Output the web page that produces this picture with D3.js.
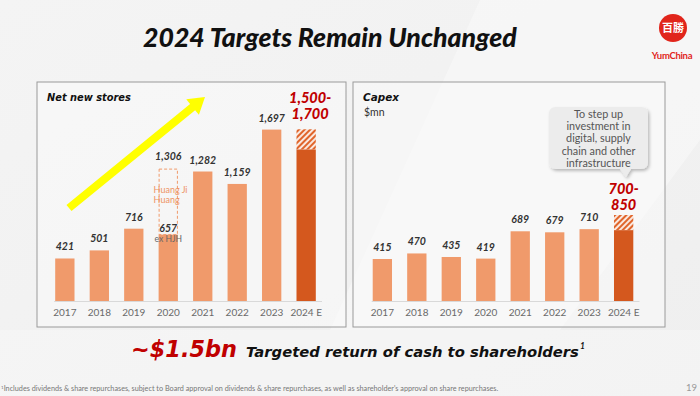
<!DOCTYPE html>
<html>
<head>
<meta charset="utf-8">
<script src="https://cdn.jsdelivr.net/npm/d3@7"></script>
<style>
  html, body { margin: 0; padding: 0; background: #f2f2f2; }
  svg { display: block; font-family: Lato, "Open Sans", sans-serif; }
</style>
</head>
<body>
<svg id="chart" width="700" height="396"></svg>
<script>
// Chart data
const years = ["2017", "2018", "2019", "2020", "2021", "2022", "2023", "2024 E"];
const storeValues = [421, 501, 716, 657, 1282, 1159, 1697, 1500];
const storeTargetHigh = 1700;
const storeHjhTotal = 1306;
const capexValues = [415, 470, 435, 419, 689, 679, 710, 700];
const capexTargetHigh = 850;
const calloutLines = ["To step up", "investment in", "digital, supply", "chain and other", "infrastructure"];

const svg = d3.select("#chart");
const fmt = d3.format(",");

const BAR = "#f09a6b",
      BAR_EST = "#d4581e",
      RED = "#c00000",
      LABEL = "#333",
      WIDE = "'DejaVu Sans', Verdana, sans-serif";

// scale a text's font size so it spans the given width
function fitWidth(sel, w) {
  let cur = sel.node().getComputedTextLength(),
      fs  = +sel.attr("font-size");
  sel.attr("font-size", fs * w / cur);
  return sel;
}

/**
 * Background & defs
 */
const defs = svg.append("defs");

let bgGrad = defs.append("linearGradient").attr("id", "bg").attr("x1", 0).attr("y1", 0).attr("x2", 1).attr("y2", 1);
bgGrad.append("stop").attr("offset", 0).attr("stop-color", "#f4f4f4");
bgGrad.append("stop").attr("offset", 1).attr("stop-color", "#efefef");

let hatch = defs.append("pattern")
    .attr("id", "hatch")
    .attr("width", 4).attr("height", 4)
    .attr("patternUnits", "userSpaceOnUse")
    .attr("patternTransform", "rotate(45)");
hatch.append("rect").attr("width", 4).attr("height", 4).attr("fill", "#e0652b");
hatch.append("line").attr("x1", 1).attr("y1", 0).attr("x2", 1).attr("y2", 4)
    .attr("stroke", "#fff").attr("stroke-width", 1.7);

let shadow = defs.append("filter").attr("id", "shadow").attr("x", "-20%").attr("y", "-20%").attr("width", "140%").attr("height", "150%");
shadow.append("feDropShadow").attr("dx", 1.5).attr("dy", 2).attr("stdDeviation", 1.8)
    .attr("flood-color", "#000").attr("flood-opacity", 0.25);

svg.append("rect").attr("width", 700).attr("height", 396).attr("fill", "url(#bg)");
// soft lighter facets in the slide background
svg.append("polygon").attr("points", "480,0 700,0 700,140 560,330 330,330")
    .attr("fill", "#fff").attr("opacity", 0.35);
svg.append("polygon").attr("points", "0,330 700,330 700,396 0,396")
    .attr("fill", "#fff").attr("opacity", 0.25);

/**
 * Title & logo
 */
let title = svg.append("text")
    .attr("x", 143).attr("y", 47)
    .attr("font-size", 24).attr("font-weight", 900).attr("font-style", "italic")
    .attr("fill", "#111")
    .text("2024 Targets Remain Unchanged");
fitWidth(title, 374);

svg.append("circle").attr("cx", 673).attr("cy", 28).attr("r", 14).attr("fill", "#e1251b");
svg.append("text")
    .attr("x", 673).attr("y", 32)
    .attr("text-anchor", "middle")
    .attr("font-family", "'Noto Sans CJK SC', sans-serif")
    .attr("font-size", 11).attr("font-weight", 700)
    .attr("fill", "#fff")
    .text("百勝");
svg.append("text")
    .attr("x", 672).attr("y", 59)
    .attr("text-anchor", "middle")
    .attr("font-size", 9.5).attr("font-weight", 700)
    .attr("fill", "#e1251b")
    .attr("letter-spacing", -0.3)
    .text("YumChina");

/**
 * Panel builder
 */
function drawPanel(opts) {
  let g = svg.append("g");

  g.append("rect")
      .attr("x", opts.box[0]).attr("y", 82)
      .attr("width", opts.box[1] - opts.box[0]).attr("height", 245)
      .attr("fill", "#fafafa").attr("fill-opacity", 0.55)
      .attr("stroke", "#9a9a9a").attr("stroke-width", 1);

  let x = d3.scaleBand()
      .domain(years)
      .range(opts.range)
      .paddingInner(0.44)
      .paddingOuter(0.18);

  let y = d3.scaleLinear()
      .domain([0, opts.high])
      .range([301, opts.highY]);

  // baseline
  g.append("line")
      .attr("x1", x(years[0]) - 1).attr("x2", opts.range[1])
      .attr("y1", 301.5).attr("y2", 301.5)
      .attr("stroke", "#d9d9d9").attr("stroke-width", 1.2);

  // year labels
  let axis = d3.axisBottom(x).tickSize(0).tickPadding(0);
  let ax = g.append("g").attr("transform", "translate(0,309)").call(axis);
  ax.select(".domain").remove();
  ax.selectAll("text")
      .attr("font-family", "Lato, sans-serif")
      .attr("font-size", 10)
      .attr("fill", "#6a6a6a");

  let last = years[years.length - 1];

  // target range hatch on 2024 E
  g.append("rect")
      .attr("x", x(last)).attr("width", x.bandwidth())
      .attr("y", y(opts.high)).attr("height", y(opts.values[opts.values.length - 1]) - y(opts.high))
      .attr("fill", "url(#hatch)");

  // bars
  g.selectAll(".bar")
      .data(opts.values)
      .join("rect")
      .attr("class", "bar")
      .attr("x", (d, i) => x(years[i]))
      .attr("width", x.bandwidth())
      .attr("y", d => y(d))
      .attr("height", d => 301 - y(d))
      .attr("fill", (d, i) => years[i] === last ? BAR_EST : BAR);

  // value labels (not on the estimate bar)
  g.selectAll(".val")
      .data(opts.values.slice(0, -1))
      .join("text")
      .attr("class", "val")
      .attr("x", (d, i) => x(years[i]) + x.bandwidth() / 2)
      .attr("y", (d, i) => opts.labelY ? opts.labelY(d, i, y) : y(d) - 8)
      .attr("text-anchor", "middle")
      .attr("font-size", 10.5).attr("font-weight", 700).attr("font-style", "italic")
      .attr("fill", LABEL)
      .text(d => fmt(d));

  // panel title
  let t = g.append("text")
      .attr("x", opts.box[0] + 10).attr("y", 101)
      .attr("font-family", WIDE)
      .attr("font-size", 10).attr("font-weight", 700).attr("font-style", "italic")
      .attr("fill", "#111")
      .text(opts.title);
  fitWidth(t, opts.titleWidth);

  // target label
  let tx = x(last) + x.bandwidth() / 2 + opts.targetDx;
  g.append("text")
      .attr("text-anchor", "middle")
      .attr("font-size", 14.5).attr("font-weight", 900).attr("font-style", "italic")
      .attr("fill", RED)
      .selectAll("tspan")
      .data(opts.targetLines)
      .join("tspan")
      .attr("x", tx)
      .attr("y", (d, i) => opts.targetY + i * 16)
      .text(d => d);

  return { g, x, y };
}

/**
 * Net new stores
 */
let left = drawPanel({
  box: [37, 346],
  range: [49, 322],
  values: storeValues,
  high: storeTargetHigh,
  highY: 129.3,
  title: "Net new stores",
  titleWidth: 84,
  targetLines: [fmt(storeValues[7]) + "-", fmt(storeTargetHigh)],
  targetDx: 4,
  targetY: 103,
  labelY: (d, i, y) => years[i] === "2020" ? y(d) - 3 : y(d) - 8
});

// Huang Ji Huang dashed portion on 2020
let lx = left.x("2020"), ly = left.y;
left.g.append("rect")
    .attr("x", lx + 0.5).attr("width", left.x.bandwidth() - 1)
    .attr("y", ly(storeHjhTotal)).attr("height", ly(storeValues[3]) - ly(storeHjhTotal))
    .attr("fill", "none")
    .attr("stroke", BAR).attr("stroke-width", 1)
    .attr("stroke-dasharray", "3,2");
left.g.append("text")
    .attr("x", lx + left.x.bandwidth() / 2).attr("y", ly(storeHjhTotal) - 9)
    .attr("text-anchor", "middle")
    .attr("font-size", 10.5).attr("font-weight", 700).attr("font-style", "italic")
    .attr("fill", LABEL)
    .text(fmt(storeHjhTotal));
left.g.append("text")
    .attr("font-size", 9).attr("fill", "#ee9464")
    .selectAll("tspan")
    .data(["Huang Ji", "Huang"])
    .join("tspan")
    .attr("x", lx - 5)
    .attr("y", (d, i) => 193.3 + i * 9.5)
    .text(d => d);
left.g.append("text")
    .attr("x", lx + left.x.bandwidth() / 2).attr("y", ly(storeValues[3]) + 7)
    .attr("text-anchor", "middle")
    .attr("font-size", 8.5).attr("fill", "#666")
    .text("ex HJH");

// growth arrow
left.g.append("path")
    .attr("d", (() => {
      let x0 = 69, y0 = 208, x1 = 205, y1 = 97;
      let dx = x1 - x0, dy = y1 - y0, len = Math.hypot(dx, dy);
      let ux = dx / len, uy = dy / len, px = -uy, py = ux;
      let hw = 4, head = 16, hh = 10;
      let bx = x1 - ux * head, by = y1 - uy * head;
      return d3.line()([
        [x0 + px * hw, y0 + py * hw],
        [bx + px * hw, by + py * hw],
        [bx + px * hh, by + py * hh],
        [x1, y1],
        [bx - px * hh, by - py * hh],
        [bx - px * hw, by - py * hw],
        [x0 - px * hw, y0 - py * hw]
      ]) + "Z";
    })())
    .attr("fill", "#ffff00");

/**
 * Capex
 */
let right = drawPanel({
  box: [353, 665],
  range: [366.5, 639.5],
  values: capexValues,
  high: capexTargetHigh,
  highY: 215,
  title: "Capex",
  titleWidth: 36,
  targetLines: [capexValues[7] + "-", String(capexTargetHigh)],
  targetDx: 0,
  targetY: 194
});

right.g.append("text")
    .attr("x", 364).attr("y", 116)
    .attr("font-size", 10.5).attr("fill", "#333")
    .text("$mn");

// callout
let cb = { x0: 549, x1: 648, y0: 107, y1: 169, r: 7, tip: [626, 177] };
right.g.append("path")
    .attr("d", `M${cb.x0 + cb.r},${cb.y0} H${cb.x1 - cb.r} Q${cb.x1},${cb.y0} ${cb.x1},${cb.y0 + cb.r}
      V${cb.y1 - cb.r} Q${cb.x1},${cb.y1} ${cb.x1 - cb.r},${cb.y1} H${cb.tip[0] + 5} L${cb.tip[0]},${cb.tip[1]}
      L${cb.tip[0] - 6},${cb.y1} H${cb.x0 + cb.r} Q${cb.x0},${cb.y1} ${cb.x0},${cb.y1 - cb.r}
      V${cb.y0 + cb.r} Q${cb.x0},${cb.y0} ${cb.x0 + cb.r},${cb.y0} Z`)
    .attr("fill", "#ececec")
    .attr("filter", "url(#shadow)");
right.g.append("text")
    .attr("text-anchor", "middle")
    .attr("font-size", 10.8).attr("fill", "#555")
    .selectAll("tspan")
    .data(calloutLines)
    .join("tspan")
    .attr("x", 598.5)
    .attr("y", (d, i) => 117.5 + i * 12.4)
    .text(d => d);

/**
 * Bottom headline & footnote
 */
let amount = svg.append("text")
    .attr("x", 131).attr("y", 357)
    .attr("font-family", WIDE)
    .attr("font-size", 20).attr("font-style", "italic").attr("font-weight", 700)
    .attr("fill", RED)
    .text("~$1.5bn");
fitWidth(amount, 106);

let tagline = svg.append("text")
    .attr("x", 246).attr("y", 357)
    .attr("font-family", WIDE)
    .attr("font-size", 14).attr("font-style", "italic").attr("font-weight", 700)
    .attr("fill", "#111")
    .text("Targeted return of cash to shareholders");
fitWidth(tagline, 333);
svg.append("text")
    .attr("x", 580).attr("y", 349)
    .attr("font-size", 8.5).attr("font-style", "italic").attr("font-weight", 700)
    .attr("fill", "#111")
    .text("1");

let foot = svg.append("text")
    .attr("x", 1).attr("y", 391)
    .attr("font-size", 6.6).attr("fill", "#777");
foot.append("tspan").attr("font-size", 4.5).attr("dy", -2).text("1");
foot.append("tspan").attr("dy", 2).text("Includes dividends & share repurchases, subject to Board approval on dividends & share repurchases, as well as shareholder's approval on share repurchases.");
fitWidth(foot, 497);

svg.append("text")
    .attr("x", 697).attr("y", 391)
    .attr("text-anchor", "end")
    .attr("font-size", 9.5).attr("fill", "#999")
    .text("19");
</script>
</body>
</html>
